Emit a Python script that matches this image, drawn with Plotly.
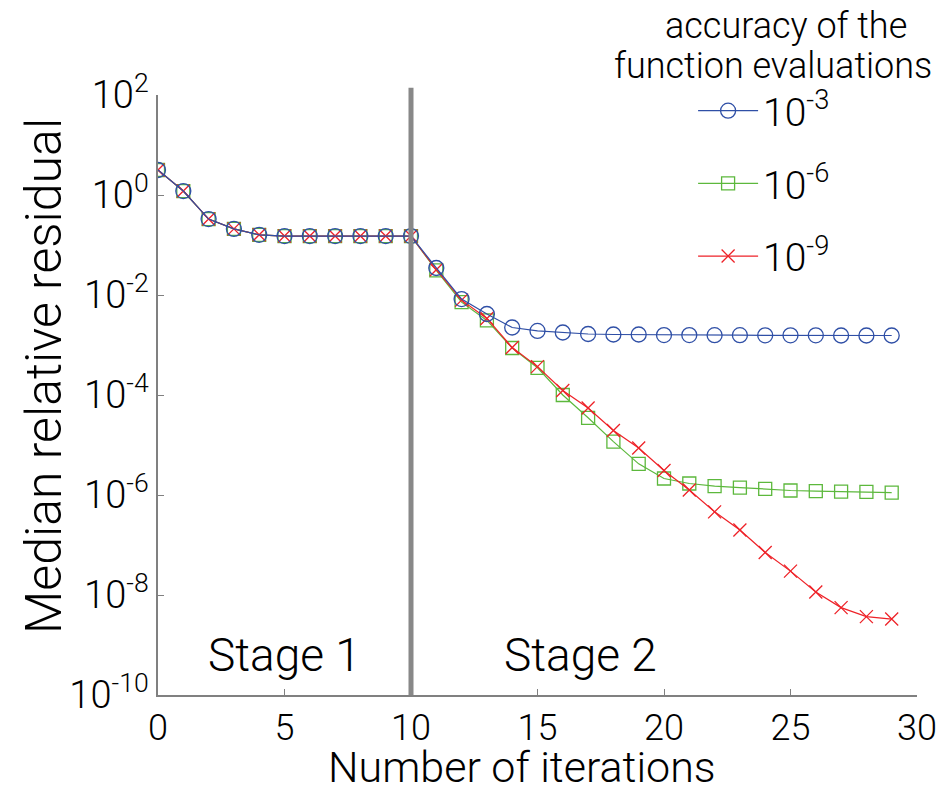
import plotly.graph_objects as go

# Iteration index
iterations = list(range(30))

# Median relative residual per iteration, one series per function-evaluation accuracy
residual_1e3 = [3.16, 1.2, 0.33, 0.21, 0.16, 0.151, 0.151, 0.151, 0.151, 0.151, 0.151,
                0.0347, 0.0083, 0.00417, 0.00224, 0.00191, 0.00178, 0.00166, 0.00162, 0.00162,
                0.00158, 0.00158, 0.00157, 0.00157, 0.00156, 0.00156, 0.00156, 0.00155, 0.00155, 0.00155]
residual_1e6 = [3.16, 1.2, 0.33, 0.21, 0.16, 0.151, 0.151, 0.151, 0.151, 0.151, 0.151,
                0.031, 0.0072, 0.0031, 8.7e-4, 3.5e-4, 1.0e-4, 3.5e-5, 1.17e-5, 4.2e-6,
                2.14e-6, 1.7e-6, 1.51e-6, 1.41e-6, 1.32e-6, 1.23e-6, 1.2e-6, 1.17e-6, 1.15e-6, 1.12e-6]
residual_1e9 = [3.16, 1.2, 0.33, 0.21, 0.16, 0.151, 0.151, 0.151, 0.151, 0.151, 0.151,
                0.032, 0.0079, 0.0034, 8.9e-4, 3.7e-4, 1.23e-4, 5.5e-5, 1.95e-5, 8.7e-6,
                3.1e-6, 1.26e-6, 4.6e-7, 2.0e-7, 7.1e-8, 3.0e-8, 1.15e-8, 5.6e-9, 3.7e-9, 3.3e-9]

series_names = ["10<sup>-3</sup>", "10<sup>-6</sup>", "10<sup>-9</sup>"]

y_tickvals = [1e2, 1e0, 1e-2, 1e-4, 1e-6, 1e-8, 1e-10]
y_ticktext = ["10<sup>2</sup>", "10<sup>0</sup>", "10<sup>-2</sup>", "10<sup>-4</sup>",
              "10<sup>-6</sup>", "10<sup>-8</sup>", "10<sup>-10</sup>"]
x_tickvals = [0, 5, 10, 15, 20, 25, 30]

FONT = "Roboto"
W = 300
AXIS_GRAY = "#808080"


def txt(size):
    return dict(family=FONT, size=size, color="black", weight=W)


fig = go.Figure()

# green and red drawn first so the blue circles sit on top
fig.add_trace(go.Scatter(
    x=iterations, y=residual_1e6, name=series_names[1], mode="lines+markers",
    line=dict(color="#5cb83c", width=1.2),
    marker=dict(symbol="square-open", size=13, color="#5cb83c", line=dict(width=1.3)),
    legendrank=2, legendgroup="b"))
fig.add_trace(go.Scatter(
    x=iterations, y=residual_1e9, name=series_names[2], mode="lines+markers",
    line=dict(color="#ee2228", width=1.2),
    marker=dict(symbol="x-thin-open", size=13, color="#ee2228", line=dict(width=1.3, color="#ee2228")),
    legendrank=3, legendgroup="c"))
fig.add_trace(go.Scatter(
    x=iterations, y=residual_1e3, name=series_names[0], mode="lines+markers",
    line=dict(color="#2f4fa6", width=1.2),
    marker=dict(symbol="circle-open", size=15, color="#2f4fa6", line=dict(width=1.3)),
    legendrank=1, legendgroup="a"))

# boundary between the two stages
fig.add_shape(type="line", xref="x", yref="paper", x0=10, x1=10, y0=0, y1=1.012,
              line=dict(color="#888888", width=5))

fig.add_annotation(x=5.0, y=-9.2, xref="x", yref="y", text="Stage 1", showarrow=False,
                   font=txt(46))
fig.add_annotation(x=16.7, y=-9.2, xref="x", yref="y", text="Stage 2", showarrow=False,
                   font=txt(46))

# axis titles
fig.add_annotation(x=0.48, y=-0.12, xref="paper", yref="paper", text="Number of iterations",
                   showarrow=False, xanchor="center", yanchor="middle", font=txt(43))
fig.add_annotation(x=-0.15, y=0.532, xref="paper", yref="paper", text="Median relative residual",
                   showarrow=False, textangle=-90, xanchor="center", yanchor="middle",
                   font=txt(50))

# legend heading, two lines
fig.add_annotation(x=(790 - 158) / 764, y=(695 - 26) / 600, xref="paper", yref="paper",
                   text="accuracy of the", showarrow=False, xanchor="center",
                   yanchor="middle", font=txt(36))
fig.add_annotation(x=(777 - 158) / 764, y=(695 - 66) / 600, xref="paper", yref="paper",
                   text="function evaluations", showarrow=False, xanchor="center",
                   yanchor="middle", font=txt(36))

fig.update_layout(
    width=949, height=793,
    margin=dict(l=158, r=27, t=95, b=98),
    paper_bgcolor="white", plot_bgcolor="white",
    font=txt(36),
    legend=dict(x=0.705, y=1.027, xanchor="left", yanchor="top",
                bgcolor="rgba(0,0,0,0)", font=txt(39),
                itemwidth=60, tracegroupgap=19, traceorder="grouped"),
    showlegend=True,
)
fig.update_xaxes(range=[0, 30], tickvals=x_tickvals, ticks="inside", ticklen=6,
                 tickcolor=AXIS_GRAY, showline=True, linecolor=AXIS_GRAY, linewidth=1.5,
                 showgrid=False, zeroline=False, tickfont=txt(36))
fig.update_yaxes(type="log", range=[-10, 2], tickvals=y_tickvals, ticktext=y_ticktext,
                 ticks="inside", ticklen=6, tickcolor=AXIS_GRAY, showline=True,
                 linecolor=AXIS_GRAY, linewidth=1.5, showgrid=False, zeroline=False,
                 tickfont=txt(38))

fig.write_html("out.html")
